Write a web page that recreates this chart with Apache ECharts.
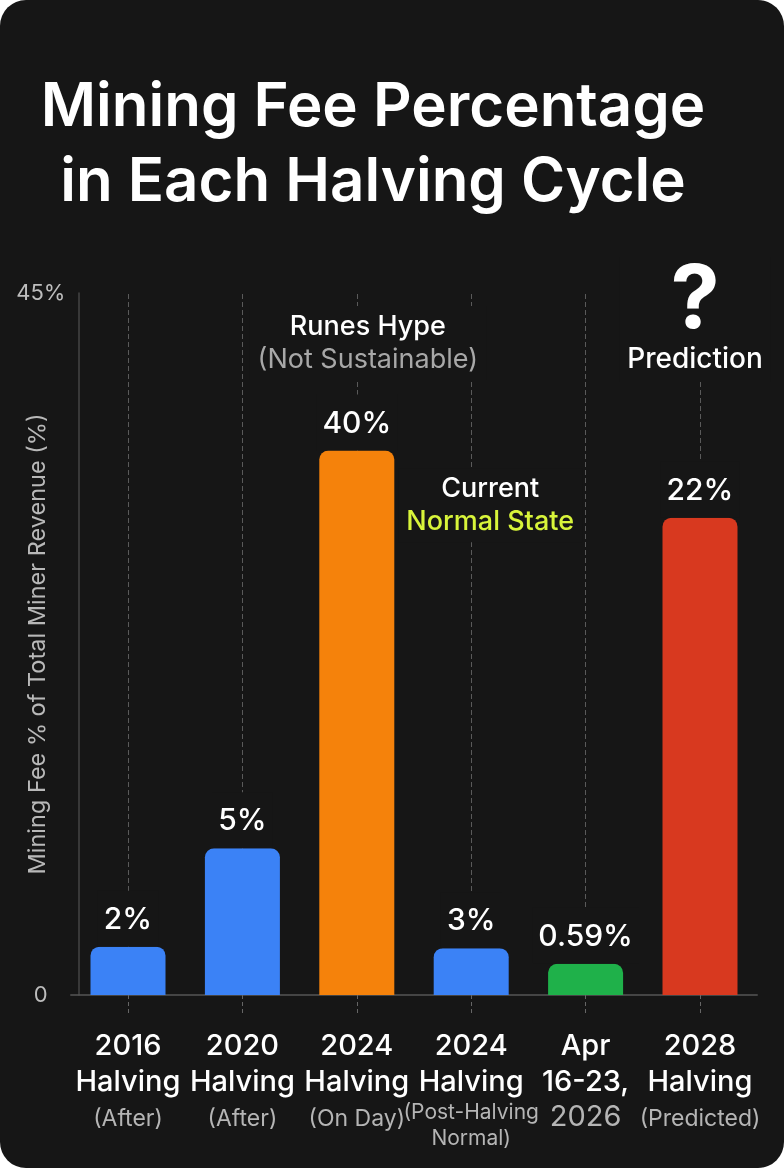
<!DOCTYPE html>
<html>
<head>
<meta charset="utf-8">
<script src="https://cdn.jsdelivr.net/npm/echarts@6.0.0/dist/echarts.min.js"></script>
<style>
html,body{margin:0;padding:0;background:#ffffff;}
#chart{width:784px;height:1168px;background:#161616;border-radius:26px;overflow:hidden;}
</style>
</head>
<body>
<div id="chart"></div>
<script>
// ---- data ----
var catTop = ['2016', '2020', '2024', '2024', 'Apr', '2028'];
var catMid = ['Halving', 'Halving', 'Halving', 'Halving', '16-23,', 'Halving'];
var catSub = ['(After)', '(After)', '(On Day)', '(Post-Halving\nNormal)', '2026', '(Predicted)'];
var valueLabels = ['2%', '5%', '40%', '3%', '0.59%', '22%'];
// bar heights as drawn against the 0–45% axis of the picture
var barHeights = [3.1, 9.4, 34.9, 3.0, 2.0, 30.6];
var barColors = ['#3b82f6', '#3b82f6', '#f5820b', '#3b82f6', '#1fb14a', '#d8391f'];
var yTicks = [0, 45];
var annotCats = [2, 3, 5];
var annotY = [41.8, 31.4, 43.3];
var annotTexts = [
  '{w|Runes Hype}\n{g|(Not Sustainable)}',
  '{w|Current}\n{y|Normal State}',
  '{q|?}\n{p|Prediction}'
];
var annotOffsets = [[11, 0], [19, 0], [-5, 0]];

var BG = '#161616';
var FONT = 'Inter, "Noto Sans", sans-serif';

var xLabels = catTop.map(function (t, i) {
  var sub;
  if (i === 4) sub = '{y|' + catSub[i] + '}';
  else if (catSub[i].indexOf('\n') >= 0) sub = catSub[i].split('\n').map(function (s) { return '{s|' + s + '}'; }).join('\n');
  else sub = '{g|' + catSub[i] + '}';
  return '{w|' + t + '}\n{w|' + catMid[i] + '}\n' + sub;
});

var chart = echarts.init(document.getElementById('chart'), null, {renderer: 'canvas'});
chart.setOption({
  backgroundColor: 'transparent',
  textStyle: {fontFamily: FONT},
  title: {
    text: 'Mining Fee Percentage\nin Each Halving Cycle',
    left: 368, top: 65, textAlign: 'center',
    textStyle: {color: '#ffffff', fontSize: 60, fontWeight: 600, lineHeight: 75, fontFamily: FONT}
  },
  grid: {left: 70.8, right: 26.8, top: 293, bottom: 173, containLabel: false, outerBoundsMode: 'none'},
  xAxis: {
    type: 'category',
    data: xLabels,
    axisLine: {show: true, lineStyle: {color: '#555555', width: 1.5}},
    axisTick: {show: true, alignWithLabel: true, length: 18, lineStyle: {color: '#666666', type: [4, 3]}},
    axisLabel: {
      interval: 0, hideOverlap: false, margin: 33, verticalAlign: 'top',
      fontFamily: FONT,
      rich: {
        w: {fontSize: 29, color: '#ffffff', lineHeight: 36, fontWeight: 500, fontFamily: FONT},
        g: {fontSize: 23, color: '#b5b5b5', lineHeight: 38, fontFamily: FONT},
        s: {fontSize: 21, color: '#b5b5b5', lineHeight: 26, fontFamily: FONT},
        y: {fontSize: 29, color: '#b5b5b5', lineHeight: 34, fontFamily: FONT}
      }
    }
  },
  yAxis: {
    type: 'value', min: yTicks[0], max: yTicks[1], interval: yTicks[1] - yTicks[0],
    offset: -8,
    name: 'Mining Fee % of Total Miner Revenue (%)',
    nameLocation: 'middle', nameGap: 29, nameMoveOverlap: false,
    nameTextStyle: {color: '#b8b8b8', fontSize: 23.5, fontFamily: FONT},
    axisLine: {show: true, lineStyle: {color: '#444444', width: 1.5}},
    axisTick: {show: false},
    splitLine: {show: false},
    axisLabel: {
      color: '#bdbdbd', fontSize: 22, align: 'center', margin: 38, fontFamily: FONT,
      formatter: function (v) { return v === 0 ? '0' : v + '%'; }
    }
  },
  series: [{
    type: 'bar',
    z: 5,
    barWidth: 75,
    data: barHeights.map(function (v, i) {
      return {value: v, itemStyle: {color: barColors[i]}};
    }),
    itemStyle: {borderRadius: [9, 9, 0, 0]},
    label: {
      show: true, position: 'top', distance: 0,
      formatter: function (p) { return valueLabels[p.dataIndex]; },
      color: '#ffffff', fontSize: 30, fontWeight: 500, fontFamily: FONT,
      backgroundColor: BG, padding: [14, 6, 12, 6]
    },
    markLine: {
      silent: true, z: 1, symbol: ['none', 'none'],
      label: {show: false},
      lineStyle: {color: '#5a5a5a', type: [5, 3], width: 1},
      data: catTop.map(function (c, i) { return {xAxis: i}; })
    },
    markPoint: {
      silent: true, z: 10,
      symbol: 'rect', symbolSize: 1,
      itemStyle: {color: 'transparent'},
      label: {
        show: true, position: 'inside', backgroundColor: BG, padding: [4, 8],
        fontFamily: FONT,
        rich: {
          w: {fontSize: 27, color: '#ffffff', lineHeight: 33, fontWeight: 500, fontFamily: FONT},
          g: {fontSize: 27, color: '#a8a8a8', lineHeight: 33, fontFamily: FONT},
          y: {fontSize: 27, color: '#d8f43a', lineHeight: 33, fontWeight: 500, fontFamily: FONT},
          q: {fontSize: 88, color: '#ffffff', lineHeight: 80, fontWeight: 700, fontFamily: FONT},
          p: {fontSize: 28, color: '#ffffff', lineHeight: 36, fontWeight: 500, fontFamily: FONT}
        }
      },
      data: annotCats.map(function (c, i) {
        return {coord: [c, annotY[i]], value: 0, label: {formatter: annotTexts[i], offset: annotOffsets[i]}};
      })
    }
  }]
});
</script>
</body>
</html>
